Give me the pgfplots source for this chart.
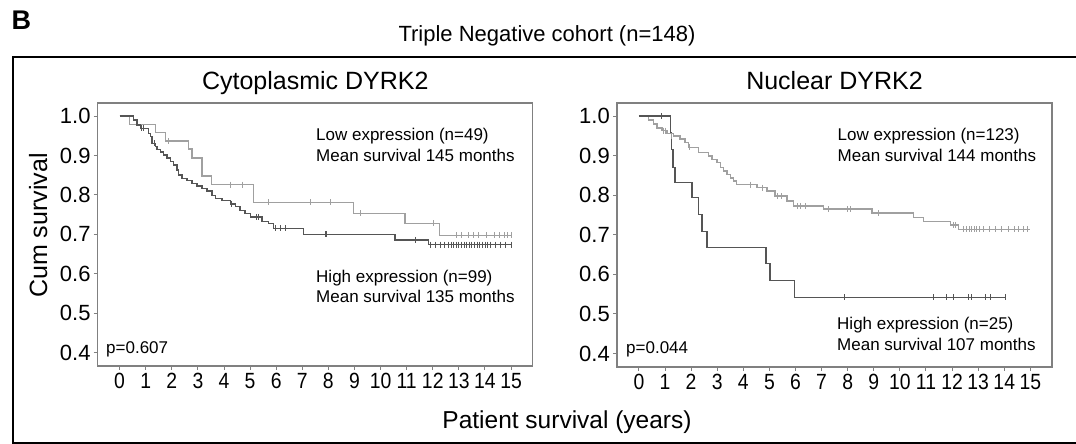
\documentclass[border=0pt]{standalone}
\usepackage{graphicx}
\usepackage{pgfplots}
\pgfplotsset{compat=1.18}
\usepackage{fontspec}
\setmainfont{Liberation Sans}
\definecolor{lowc}{HTML}{A0A0A0}
\definecolor{highc}{HTML}{555555}
\definecolor{boxc}{HTML}{808080}
\pgfplotsset{km/.style={
  scale only axis, width=435pt,
  xmin=-0.84, xmax=15.83, ymin=0.366, ymax=1.033,
  xtick={0,...,15}, ytick={0.4,0.5,0.6,0.7,0.8,0.9,1.0},
  xticklabel={\scalebox{0.88}[1]{\pgfmathprintnumber{\tick}}},
  yticklabel style={/pgf/number format/fixed, /pgf/number format/fixed zerofill, /pgf/number format/precision=1},
  /pgf/number format/assume math mode=true,
  tick label style={font=\fontsize{22}{22}\selectfont, inner sep=3pt, text=black},
  tick align=outside, major tick length=4pt, tick pos=left,
  axis line style={boxc, line width=1.3pt},
  every tick/.style={boxc, line width=1pt},
  lowline/.style={const plot mark left, lowc, line width=1.4pt, no marks},
  highline/.style={const plot mark left, highc, line width=1.4pt, no marks},
  lowmark/.style={only marks, mark=|, mark size=3pt, lowc, mark options={line width=0.9pt}},
  highmark/.style={only marks, mark=|, mark size=3pt, highc, mark options={line width=0.9pt}},
}}
\newcommand{\ann}{\fontsize{17}{17}\selectfont}
\begin{document}
\begin{tikzpicture}
\path[use as bounding box] (0pt,0pt) rectangle (1076pt,444pt);
% outer frame
\draw[line width=2pt] (1090pt,387pt) -- (12.7pt,387pt) -- (12.7pt,0.8pt) -- (1090pt,0.8pt);
\node[anchor=base west, inner sep=0pt, font=\fontsize{27}{27}\selectfont\bfseries] at (11.5pt,414.7pt) {B};
\node[anchor=base, inner sep=0pt, font=\fontsize{22}{22}\selectfont] at (547pt,402pt) {Triple Negative cohort (n=148)};
\node[anchor=base, inner sep=0pt, font=\fontsize{24.5}{24.5}\selectfont] at (567pt,15.7pt) {Patient survival (years)};
\node[anchor=base, inner sep=0pt, rotate=90, font=\fontsize{25}{25}\selectfont] at (47pt,218.5pt) {Cum survival};

% left panel
\begin{axis}[km, at={(97.7pt,78pt)}, anchor=south west, height=263pt]
\addplot[lowline] coordinates {(0,1.0) (0.38,0.979) (1.37,0.958) (1.75,0.937) (2.64,0.916) (2.77,0.894) (3.16,0.848) (3.52,0.826) (5.13,0.781) (8.96,0.753) (10.94,0.728) (12.26,0.697) (15.03,0.697)};
\addplot[lowmark] coordinates {(1.88,0.937)(4.24,0.826)(4.69,0.826)(5.71,0.781)(7.30,0.781)(8.07,0.781)(9.22,0.753)(12.03,0.728)(12.9,0.697)(13.1,0.697)(13.35,0.697)(13.55,0.697)(13.75,0.697)(14.05,0.697)(14.35,0.697)(14.55,0.697)(14.75,0.697)(14.85,0.697)(15.0,0.697)};
\addplot[highline] coordinates {(0,1.0)(0.54,0.990)(0.67,0.977)(0.79,0.969)(1.11,0.956)(1.18,0.948)(1.24,0.931)(1.37,0.922)(1.43,0.915)(1.56,0.909)(1.69,0.901)(1.81,0.893)(1.94,0.884)(2.07,0.876)(2.20,0.863)(2.26,0.850)(2.39,0.842)(2.58,0.836)(2.77,0.829)(2.96,0.822)(3.15,0.816)(3.35,0.810)(3.54,0.799)(3.67,0.791)(3.92,0.785)(4.24,0.777)(4.43,0.770)(4.62,0.761)(4.81,0.753)(5.01,0.744)(5.45,0.732)(5.71,0.728)(5.90,0.715)(7.05,0.700)(10.56,0.686)(11.84,0.674)(15.03,0.674)};
\addplot[highmark] coordinates {(0.85,0.969)(0.91,0.969)(1.34,0.931)(4.30,0.777)(5.26,0.744)(5.32,0.744)(5.96,0.715)(6.15,0.715)(6.34,0.715)(7.88,0.700)(7.94,0.700)(11.33,0.686)(11.9,0.674)(12.1,0.674)(12.3,0.674)(12.45,0.674)(12.6,0.674)(12.7,0.674)(12.8,0.674)(12.9,0.674)(13.0,0.674)(13.1,0.674)(13.2,0.674)(13.3,0.674)(13.4,0.674)(13.5,0.674)(13.6,0.674)(13.7,0.674)(13.8,0.674)(13.9,0.674)(14.0,0.674)(14.1,0.674)(14.2,0.674)(14.4,0.674)(14.6,0.674)(14.8,0.674)(15.0,0.674)};
\end{axis}

% right panel
\begin{axis}[km, at={(617pt,77pt)}, anchor=south west, height=264pt]
\addplot[lowline] coordinates {(0,1.0)(0.37,0.990)(0.56,0.980)(0.69,0.970)(0.88,0.963)(1.07,0.956)(1.33,0.950)(1.58,0.942)(1.77,0.933)(1.90,0.921)(2.29,0.908)(2.67,0.899)(2.80,0.891)(2.99,0.882)(3.12,0.870)(3.24,0.861)(3.37,0.853)(3.50,0.844)(3.63,0.836)(3.75,0.827)(4.52,0.819)(4.91,0.811)(5.22,0.798)(5.67,0.785)(5.93,0.773)(7.08,0.765)(8.93,0.755)(10.53,0.743)(10.91,0.734)(11.93,0.725)(12.25,0.714)(15.0,0.714)};
\addplot[lowmark] coordinates {(0.95,0.963)(1.0,0.963)(1.25,0.950)(1.95,0.921)(4.26,0.827)(4.72,0.819)(5.29,0.798)(5.48,0.798)(6.06,0.773)(6.19,0.773)(6.38,0.773)(7.27,0.765)(8.0,0.765)(8.1,0.765)(9.19,0.755)(12.06,0.725)(12.12,0.725)(12.45,0.714)(12.55,0.714)(12.65,0.714)(12.75,0.714)(12.85,0.714)(12.95,0.714)(13.05,0.714)(13.2,0.714)(13.45,0.714)(13.65,0.714)(13.9,0.714)(14.15,0.714)(14.4,0.714)(14.55,0.714)(14.75,0.714)(14.9,0.714)};
\addplot[highline] coordinates {(0,1.0)(1.20,0.959)(1.24,0.916)(1.30,0.870)(1.39,0.832)(2.03,0.794)(2.29,0.751)(2.41,0.709)(2.61,0.668)(4.87,0.628)(5.03,0.584)(5.97,0.542)(14.04,0.542)};
\addplot[highmark] coordinates {(0.88,1.0)(7.87,0.542)(11.29,0.542)(11.80,0.542)(12.06,0.542)(12.64,0.542)(12.76,0.542)(13.27,0.542)(13.47,0.542)(14.04,0.542)};
\end{axis}

% panel titles
\node[anchor=base, inner sep=0pt, font=\fontsize{25}{25}\selectfont] at (315.3pt,354pt) {Cytoplasmic DYRK2};
\node[anchor=base, inner sep=0pt, font=\fontsize{25}{25}\selectfont] at (834.5pt,354pt) {Nuclear DYRK2};
% annotations left
\node[anchor=base west, inner sep=0pt, font=\ann] at (316pt,303.3pt) {Low expression (n=49)};
\node[anchor=base west, inner sep=0pt, font=\ann] at (316pt,282.3pt) {Mean survival 145 months};
\node[anchor=base west, inner sep=0pt, font=\ann] at (316pt,161.3pt) {High expression (n=99)};
\node[anchor=base west, inner sep=0pt, font=\ann] at (316pt,141.3pt) {Mean survival 135 months};
\node[anchor=base west, inner sep=0pt, font=\ann] at (106pt,90pt) {p=0.607};
% annotations right
\node[anchor=base west, inner sep=0pt, font=\ann] at (837.5pt,303.3pt) {Low expression (n=123)};
\node[anchor=base west, inner sep=0pt, font=\ann] at (837.5pt,282.3pt) {Mean survival 144 months};
\node[anchor=base west, inner sep=0pt, font=\ann] at (837pt,114pt) {High expression (n=25)};
\node[anchor=base west, inner sep=0pt, font=\ann] at (837pt,93.3pt) {Mean survival 107 months};
\node[anchor=base west, inner sep=0pt, font=\ann] at (626pt,90pt) {p=0.044};
\end{tikzpicture}
\end{document}
